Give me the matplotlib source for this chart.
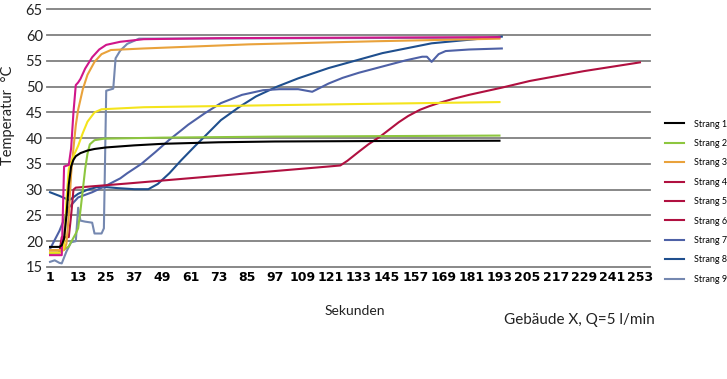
import matplotlib
matplotlib.use("Agg")
import matplotlib.pyplot as plt
from matplotlib.lines import Line2D

# ---------------- data ----------------
names = [f"Strang {i}" for i in range(1, 10)]

t1 = [1, 5, 6, 7, 8, 9, 10, 11, 12, 14, 17, 20, 25, 37, 49, 73, 97, 145, 193]
v1 = [18.9, 18.9, 19.2, 20.5, 25, 31, 34.5, 35.8, 36.5, 37.1, 37.6, 37.9, 38.2, 38.6, 38.9, 39.2, 39.35, 39.45, 39.5]

t2 = [1, 5, 9, 12, 13, 14, 15, 16, 17, 18, 20, 24, 49, 97, 193]
v2 = [17.6, 17.8, 19, 21.5, 22.5, 26, 30, 34, 37, 38.8, 39.6, 39.9, 40.1, 40.3, 40.5]

t3 = [1, 7, 8, 9, 10, 11, 12, 13, 15, 17, 20, 23, 27, 41, 86, 140, 193]
v3 = [18.3, 18.3, 19.5, 25, 33, 38, 42.5, 45.5, 49.5, 52.3, 54.8, 56.3, 57.1, 57.4, 58.2, 58.8, 59.3]

t4 = [1, 5, 6, 9, 10, 11, 12, 34, 120, 125, 128, 133, 137, 142, 146, 150, 154, 159, 163, 167,
      173, 180, 194, 206, 229, 253]
v4 = [17.8, 17.8, 20.8, 20.8, 25, 30.0, 30.4, 31.2, 34.5, 34.7, 35.6, 37.4, 38.8, 40.3, 41.7, 43.1, 44.3, 45.5, 46.2, 46.8,
      47.6, 48.4, 49.8, 51.1, 53.0, 54.7]

t5 = [1, 6, 7, 9, 10, 11, 12, 13, 14, 16, 19, 22, 25, 31, 41, 73, 193]
v5 = [17.3, 17.3, 34.5, 34.8, 38, 45, 50.3, 50.8, 51.5, 53.5, 55.7, 57.2, 58.1, 58.7, 59.2, 59.4, 59.6]

t6 = [1, 6, 7, 8, 9, 10, 12, 13, 15, 17, 20, 23, 41, 97, 193]
v6 = [17.8, 17.8, 19, 28, 34, 35.5, 37.5, 38.5, 41, 43.2, 45, 45.6, 46, 46.4, 47]

t7 = [1, 5, 9, 13, 19, 25, 31, 34, 40, 46, 52, 57, 60, 67, 74, 83, 92, 99, 107, 113,
      120, 126, 133, 143, 153, 160, 162, 164, 167, 170, 180, 194]
v7 = [18.5, 22, 26.5, 28.5, 29.5, 30.8, 32.2, 33.2, 35, 37.3, 39.7, 41.5, 42.6, 44.8, 46.8, 48.4, 49.3, 49.5, 49.5, 49.0,
      50.6, 51.7, 52.7, 53.9, 55.1, 55.8, 55.8, 54.8, 56.3, 56.9, 57.2, 57.4]

t8 = [1, 5, 9, 10, 13, 17, 21, 25, 30, 37, 43, 47, 52, 57, 63, 67, 74, 82, 89, 98, 107, 120, 143, 164, 194]
v8 = [29.5, 28.8, 28, 28.2, 29.2, 30, 30.5, 30.5, 30.3, 30.1, 30.1, 31.1, 33.2, 35.7, 38.5, 40.3, 43.5, 46.1, 48.1, 50, 51.6, 53.6, 56.5, 58.4, 59.7]

t9 = [1, 3, 5, 6, 8, 10, 12, 13, 14, 16, 19, 20, 23, 24, 25, 28, 29, 31, 34, 39, 193]
v9 = [16, 16.3, 15.8, 15.7, 18, 19.8, 20, 26.5, 24, 23.8, 23.6, 21.5, 21.5, 22.5, 49.2, 49.6, 55.5, 57, 58.3, 59.3, 59.5]

series_t = [t1, t2, t3, t4, t5, t6, t7, t8, t9]
series_v = [v1, v2, v3, v4, v5, v6, v7, v8, v9]

line_colors = ["#000000", "#8dc63f", "#e9a23b", "#b01040", "#d0168a",
               "#f4e41c", "#4e61a6", "#1f4f8e", "#7588b0"]
legend_colors = ["#000000", "#8dc63f", "#e9a23b", "#b01040", "#b01040",
                 "#b01040", "#4e61a6", "#1f4f8e", "#7588b0"]

x_ticks = list(range(1, 254, 12))
y_ticks = list(range(15, 66, 5))

# ---------------- figure ----------------
W, H = 727, 379
fig = plt.figure(figsize=(W / 100, H / 100), dpi=100)
ax = fig.add_axes([47 / W, 1 - 267 / H, (650 - 47) / W, (267 - 9.3) / H])

order = [8, 7, 6, 3, 1, 2, 5, 4, 0]
for i in order:
    ax.plot(series_t[i], series_v[i], color=line_colors[i], lw=1.5,
            solid_joinstyle="round", zorder=3)

ax.set_xlim(-0.3, 257.3)
ax.set_ylim(15, 65)
ax.set_xticks(x_ticks)
ax.set_yticks(y_ticks)
ax.set_xticklabels([str(t) for t in x_ticks], family=["Liberation Sans Narrow", "DejaVu Sans"],
                   weight="bold", fontsize=9)
ax.set_yticklabels([str(v) for v in y_ticks], family="Lato", fontsize=10.5, color="#222222")
ax.tick_params(axis="both", length=0)
ax.tick_params(axis="x", pad=3)
ax.tick_params(axis="y", pad=3)
ax.grid(axis="y", color="#7f7f7f", lw=1.3, zorder=1)
for g in ax.get_ygridlines():
    g.set_clip_on(False)
for s in ax.spines.values():
    s.set_visible(False)

fig.text(8 / W, 1 - 115 / H, "Temperatur  °C", rotation=90, ha="center", va="center",
         family="Lato", fontsize=10.5, color="#222222")
fig.text(355 / W, 1 - 311 / H, "Sekunden", ha="center", va="center",
         family="Lato", fontsize=10, color="#222222")
fig.text(655 / W, 1 - 320 / H, "Gebäude X, Q=5 l/min", ha="right", va="center",
         family="Lato", fontsize=11, color="#222222")

handles = [Line2D([], [], color=c, lw=1.5) for c in legend_colors]
fig.legend(handles, names, loc="upper left", bbox_to_anchor=(661 / W, 1 - 116 / H),
           frameon=False, prop={"family": "Lato", "size": 6.5},
           handlelength=2.2, handletextpad=1.0, labelspacing=1.15, borderaxespad=0)

fig.savefig("out.png", dpi=100)
